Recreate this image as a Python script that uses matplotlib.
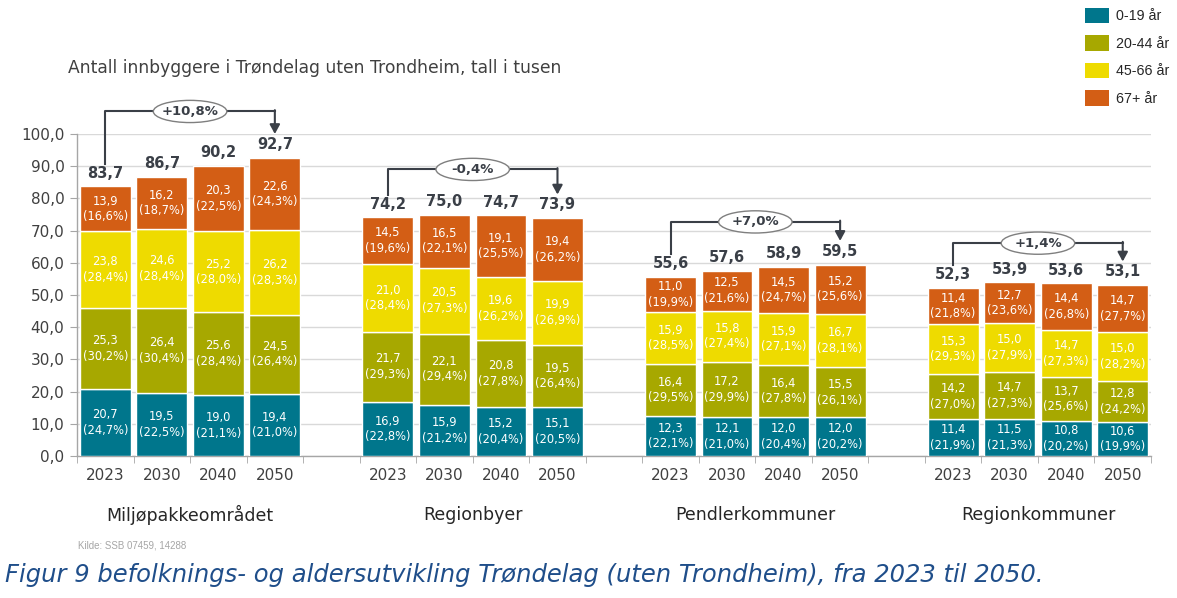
import matplotlib
matplotlib.use("Agg")
import matplotlib.pyplot as plt
from matplotlib.patches import Patch, Ellipse
from matplotlib.transforms import blended_transform_factory
import numpy as np

plt.rcParams['font.family'] = ['DejaVu Sans']

groups = ["Miljøpakkeområdet", "Regionbyer", "Pendlerkommuner", "Regionkommuner"]
years = ["2023", "2030", "2040", "2050"]
age_groups = ["0-19 år", "20-44 år", "45-66 år", "67+ år"]

# values (thousands), per age group, 16 bars (4 groups x 4 years)
v_0_19 = [20.7, 19.5, 19.0, 19.4, 16.9, 15.9, 15.2, 15.1, 12.3, 12.1, 12.0, 12.0, 11.4, 11.5, 10.8, 10.6]
v_20_44 = [25.3, 26.4, 25.6, 24.5, 21.7, 22.1, 20.8, 19.5, 16.4, 17.2, 16.4, 15.5, 14.2, 14.7, 13.7, 12.8]
v_45_66 = [23.8, 24.6, 25.2, 26.2, 21.0, 20.5, 19.6, 19.9, 15.9, 15.8, 15.9, 16.7, 15.3, 15.0, 14.7, 15.0]
v_67 = [13.9, 16.2, 20.3, 22.6, 14.5, 16.5, 19.1, 19.4, 11.0, 12.5, 14.5, 15.2, 11.4, 12.7, 14.4, 14.7]

p_0_19 = [24.7, 22.5, 21.1, 21.0, 22.8, 21.2, 20.4, 20.5, 22.1, 21.0, 20.4, 20.2, 21.9, 21.3, 20.2, 19.9]
p_20_44 = [30.2, 30.4, 28.4, 26.4, 29.3, 29.4, 27.8, 26.4, 29.5, 29.9, 27.8, 26.1, 27.0, 27.3, 25.6, 24.2]
p_45_66 = [28.4, 28.4, 28.0, 28.3, 28.4, 27.3, 26.2, 26.9, 28.5, 27.4, 27.1, 28.1, 29.3, 27.9, 27.3, 28.2]
p_67 = [16.6, 18.7, 22.5, 24.3, 19.6, 22.1, 25.5, 26.2, 19.9, 21.6, 24.7, 25.6, 21.8, 23.6, 26.8, 27.7]

totals = [83.7, 86.7, 90.2, 92.7, 74.2, 75.0, 74.7, 73.9, 55.6, 57.6, 58.9, 59.5, 52.3, 53.9, 53.6, 53.1]
changes = ["+10,8%", "-0,4%", "+7,0%", "+1,4%"]
bracket_levels = [107.0, 89.0, 72.7, 66.1]

colors = ["#00768C", "#A7A800", "#EEDB00", "#D35E15"]
text_dark = "#3A3F47"

fig = plt.figure(figsize=(11.77, 5.98), dpi=100)
ax = fig.add_axes([77/1177, 1-456/598, (1151-77)/1177, 322/598])

pos = []
for g in range(4):
    for y in range(4):
        pos.append(g * 5 + y)
pos = np.array(pos)

def fmt(v):
    return f"{v:.1f}".replace(".", ",")

series = [v_0_19, v_20_44, v_45_66, v_67]
pcts = [p_0_19, p_20_44, p_45_66, p_67]
bottom = np.zeros(len(pos))
for s, (vals, pc, col) in enumerate(zip(series, pcts, colors)):
    vals = np.array(vals)
    ax.bar(pos, vals, width=0.9, bottom=bottom, color=col, edgecolor="white",
           linewidth=1.0, zorder=3, label=age_groups[s])
    for x, b, v, p in zip(pos, bottom, vals, pc):
        ax.text(x, b + v / 2, f"{fmt(v)}\n({fmt(p)}%)", ha="center", va="center",
                color="white", fontsize=8.3, linespacing=1.25, zorder=4)
    bottom = bottom + vals

for x, t in zip(pos, totals):
    ax.annotate(fmt(t), (x, t), xytext=(0, 4), textcoords="offset points",
                ha="center", va="bottom", fontsize=10.5, fontweight="bold",
                color=text_dark, zorder=5)

# brackets
for g in range(4):
    i0, i1 = g * 4, g * 4 + 3
    x0, x1 = pos[i0], pos[i1]
    lvl = bracket_levels[g]
    yb = totals[i0] + 7.0
    ytip = totals[i1] + 7.3
    ax.plot([x0, x0, x1], [yb, lvl, lvl], color="#3A3F47", lw=1.5, clip_on=False, zorder=5)
    ax.annotate("", xy=(x1, ytip), xytext=(x1, lvl + 0.4),
                arrowprops=dict(arrowstyle="-|>,head_length=0.55,head_width=0.3",
                                color="#3A3F47", lw=1.5, shrinkA=0, shrinkB=0),
                annotation_clip=False, zorder=5)
    xm = (x0 + x1) / 2
    ax.add_patch(Ellipse((xm, lvl), width=1.3, height=6.9, facecolor="white",
                         edgecolor="#7F7F7F", lw=1.0, zorder=6, clip_on=False))
    ax.text(xm, lvl, changes[g], ha="center", va="center", fontsize=9.5,
            fontweight="bold", color=text_dark, zorder=7)

ax.set_xlim(-0.5, 18.5)
ax.set_ylim(0, 100)
ax.set_yticks(np.arange(0, 101, 10))
ax.set_yticklabels([fmt(v) for v in np.arange(0, 101, 10)], fontsize=11, color="#404040")
ax.yaxis.grid(True, color="#D9D9D9", lw=1.0, zorder=0)
ax.set_axisbelow(True)
ax.tick_params(axis="y", length=5, color="#A6A6A6", pad=4)

ax.set_xticks(pos)
ax.set_xticklabels(years * 4, fontsize=11, color="#404040")
ax.tick_params(axis="x", which="major", length=0, pad=9)
ax.set_xticks(np.arange(-0.5, 18.6, 1), minor=True)
ax.tick_params(axis="x", which="minor", length=5, color="#A6A6A6")

for sp in ["top", "right"]:
    ax.spines[sp].set_visible(False)
for sp in ["left", "bottom"]:
    ax.spines[sp].set_color("#A6A6A6")
    ax.spines[sp].set_linewidth(1.0)

trans = blended_transform_factory(ax.transData, fig.transFigure)
for g in range(4):
    ax.text(g * 5 + 1.5, 1 - 515/598, groups[g], transform=trans, ha="center", va="center",
            fontsize=12.5, color="#262626")

fig.text(68/1177, 1 - 68/598, "Antall innbyggere i Trøndelag uten Trondheim, tall i tusen",
         ha="left", va="center", fontsize=12.3, color="#404040")

handles = [Patch(facecolor=c, edgecolor="none") for c in colors]
fig.legend(handles, age_groups, loc="upper right", bbox_to_anchor=(1172/1177, 1 - 5/598),
           frameon=False, prop={"family": "Liberation Sans", "size": 10.3},
           labelspacing=0.85, handlelength=1.7, handleheight=1.25, handletextpad=0.45,
           labelcolor="#262626", borderaxespad=0.0, borderpad=0.2)

fig.text(78/1177, 1 - 546/598, "Kilde: SSB 07459, 14288", ha="left", va="center",
         fontsize=7, color="#A6A6A6", family="Liberation Sans")
fig.text(5/1177, 1 - 575/598,
         "Figur 9 befolknings- og aldersutvikling Trøndelag (uten Trondheim), fra 2023 til 2050.",
         ha="left", va="center", fontsize=17.5, style="italic", color="#1F4E8A")

fig.savefig("out.png", dpi=100)
